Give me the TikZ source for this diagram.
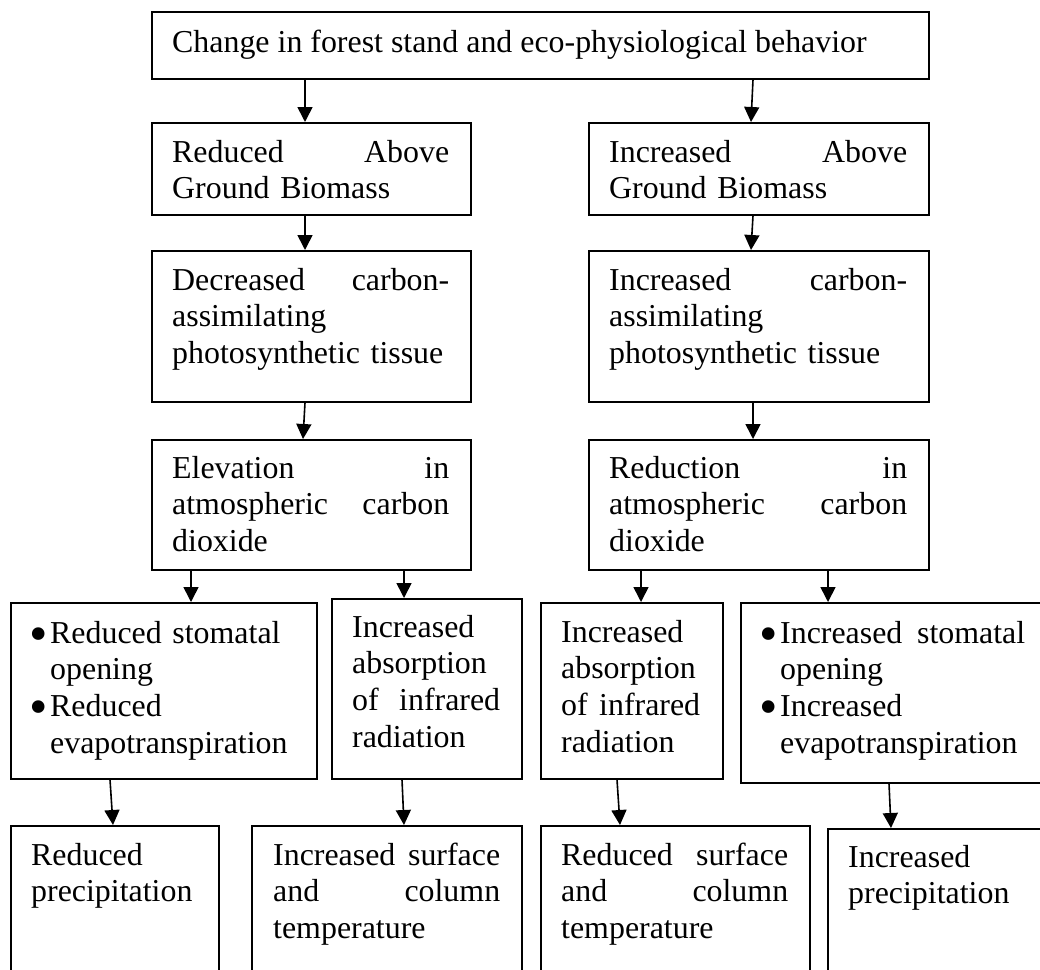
\documentclass[tikz,border=0pt]{standalone}
\usepackage{graphicx}
\usepackage{fontspec}
\setmainfont{Liberation Serif}
\usetikzlibrary{arrows.meta}
\begin{document}
\begin{tikzpicture}[x=1pt,y=-1pt,
  box/.style={draw, line width=1.6pt, anchor=north west, inner sep=0pt},
  txt/.style={anchor=base west, inner sep=0pt, align=left, font=\fontsize{31.9pt}{36.9pt}\selectfont},
  arr/.style={line width=1.6pt, -{Triangle[length=15pt,width=15pt]}}]
\useasboundingbox (0,0) rectangle (1040,969);
\clip (0,0) rectangle (1040,969);
\fill[white] (0,0) rectangle (1040,969);
\newcommand{\bul}{\leavevmode\llap{\raisebox{-8pt}{\scalebox{1.65}{\textbullet}}\hspace{1.8pt}}}
% boxes
\node[box, minimum width=777pt, minimum height=67pt] (T) at (151,11) {};
\node[box, minimum width=319pt, minimum height=92pt] (L1) at (151,122) {};
\node[box, minimum width=340pt, minimum height=92pt] (R1) at (588,122) {};
\node[box, minimum width=319pt, minimum height=151pt] (L2) at (151,250) {};
\node[box, minimum width=340pt, minimum height=151pt] (R2) at (588,250) {};
\node[box, minimum width=319pt, minimum height=130pt] (L3) at (151,439) {};
\node[box, minimum width=340pt, minimum height=130pt] (R3) at (588,439) {};
\node[box, minimum width=306pt, minimum height=176pt] (A) at (10,602) {};
\node[box, minimum width=190pt, minimum height=180pt] (B) at (331,598) {};
\node[box, minimum width=182pt, minimum height=176pt] (C) at (540,602) {};
\node[box, minimum width=306pt, minimum height=180pt] (D) at (740,602) {};
\node[box, minimum width=208pt, minimum height=144.6pt] (E) at (10,825) {};
\node[box, minimum width=270pt, minimum height=144.6pt] (F) at (251,825) {};
\node[box, minimum width=269pt, minimum height=144.6pt] (G) at (540,825) {};
\node[box, minimum width=219pt, minimum height=141.6pt] (H) at (827,828) {};
% texts
\node[txt] (Tt) at (172,52) {Change in forest stand and eco-physiological behavior};
\node[txt, text width=277pt] (L1t) at (172,162) {Reduced\hfill Above\\Ground Biomass};
\node[txt, text width=298pt] (R1t) at (609,162) {Increased\hfill Above\\Ground Biomass};
\node[txt, text width=277pt] (L2t) at (172,290) {Decreased\hfill carbon-\\assimilating\\photosynthetic tissue};
\node[txt, text width=298pt] (R2t) at (609,290) {Increased\hfill carbon-\\assimilating\\photosynthetic tissue};
\node[txt, text width=277pt] (L3t) at (172,478) {Elevation\hfill in\\atmospheric\hfill carbon\\dioxide};
\node[txt, text width=298pt] (R3t) at (609,478) {Reduction\hfill in\\atmospheric\hfill carbon\\dioxide};
\node[txt, text width=245pt] (At) at (50,643) {\bul Reduced stomatal\\opening\\\bul Reduced\\evapotranspiration};
\node[txt, text width=148pt] (Bt) at (352,637) {Increased\\absorption\\of\hfill infrared\\radiation};
\node[txt, text width=139pt] (Ct) at (561,642) {Increased\\absorption\\of\hfill infrared\\radiation};
\node[txt, text width=245pt] (Dt) at (780,643) {\bul Increased\hfill stomatal\\opening\\\bul Increased\\evapotranspiration};
\node[txt, text width=187pt] (Et) at (31,865) {Reduced\\precipitation};
\node[txt, text width=227pt] (Ft) at (273,865) {Increased\hfill surface\\and\hfill column\\temperature};
\node[txt, text width=227pt] (Gt) at (561,865) {Reduced\hfill surface\\and\hfill column\\temperature};
\node[txt, text width=190pt] (Ht) at (848,867) {Increased\\precipitation};
% connectors
\draw[arr] ([xshift=154pt]T.south west) -- ([xshift=154pt]L1.north west);
\draw[arr] ([xshift=602pt]T.south west) -- ([xshift=163pt]R1.north west);
\draw[arr] ([xshift=154pt]L1.south west) -- ([xshift=154pt]L2.north west);
\draw[arr] ([xshift=165pt]R1.south west) -- ([xshift=163pt]R2.north west);
\draw[arr] ([xshift=154pt]L2.south west) -- ([xshift=152pt]L3.north west);
\draw[arr] ([xshift=165pt]R2.south west) -- ([xshift=165pt]R3.north west);
\draw[arr] ([xshift=40pt]L3.south west) -- ([xshift=181pt]A.north west);
\draw[arr] ([xshift=253pt]L3.south west) -- ([xshift=73pt]B.north west);
\draw[arr] ([xshift=53pt]R3.south west) -- ([xshift=101pt]C.north west);
\draw[arr] ([xshift=240pt]R3.south west) -- ([xshift=88pt]D.north west);
\draw[arr] ([xshift=100pt]A.south west) -- ([xshift=103pt]E.north west);
\draw[arr] ([xshift=71pt]B.south west) -- ([xshift=153pt]F.north west);
\draw[arr] ([xshift=77pt]C.south west) -- ([xshift=80pt]G.north west);
\draw[arr] ([xshift=149pt]D.south west) -- ([xshift=64pt]H.north west);
\end{tikzpicture}
\end{document}
